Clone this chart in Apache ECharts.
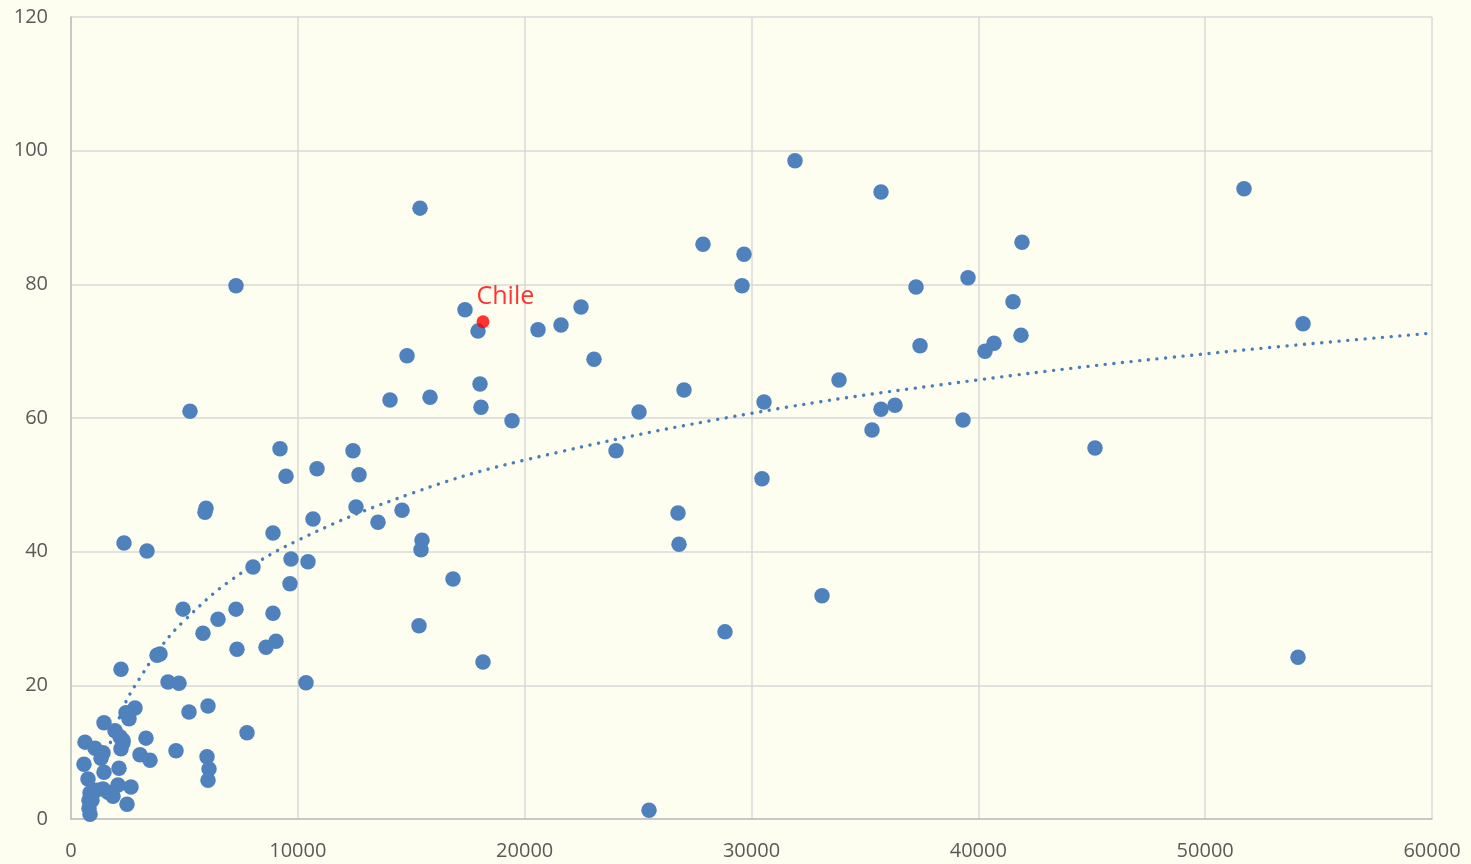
<!DOCTYPE html>
<html>
<head>
<meta charset="utf-8">
<script src="https://cdn.jsdelivr.net/npm/echarts@6/dist/echarts.min.js"></script>
<style>
html,body{margin:0;padding:0;background:#fefef0;}
#chart{width:1471px;height:864px;}
</style>
</head>
<body>
<div id="chart"></div>
<script>
// Scatter data: x values and y values
const xValues = [
  31918, 35709, 51713, 15386, 27862, 41925, 29670, 7274, 29582, 39545,
  37253, 41529, 17370, 22484, 17943, 20588, 21602, 54314, 37430, 40691,
  40294, 41881, 14813, 23057, 27025, 33858, 18031, 15827, 14063, 30551,
  18075, 35709, 36327, 5246, 25041, 19442, 39325, 35313, 45144, 24027,
  9214, 12432, 9478, 12697, 10845, 30463, 12565, 14593, 10669, 13534,
  26760, 26804, 5952, 5907, 8905, 15474, 15430, 2336, 3351, 9699,
  10448, 8024, 9655, 16841, 33108, 4938, 7274, 8905, 6481, 15342,
  5819, 9038, 28832, 7318, 8597, 3791, 3924, 18163, 54093, 2204,
  10360, 4276, 4761, 25482,
  2822, 2425, 2557, 1455, 1940, 3306, 5202, 6040, 7759, 617,
  2292, 2204, 4629, 3042, 3483, 5996, 6084, 6040, 573, 2116,
  1455, 749, 2645, 2072, 1411, 1852, 838, 794, 794, 838,
  2469, 1058, 1411, 1323, 2160, 2292, 926, 1631, 1102
];
const yValues = [
  98.5, 93.8, 94.3, 91.4, 86.0, 86.3, 84.5, 79.8, 79.8, 81.0,
  79.6, 77.4, 76.2, 76.6, 73.0, 73.2, 73.9, 74.1, 70.8, 71.2,
  70.0, 72.4, 69.3, 68.8, 64.2, 65.7, 65.1, 63.1, 62.7, 62.4,
  61.6, 61.3, 61.9, 61.0, 60.9, 59.6, 59.7, 58.2, 55.5, 55.1,
  55.4, 55.1, 51.3, 51.5, 52.4, 50.9, 46.7, 46.2, 44.9, 44.4,
  45.8, 41.1, 46.5, 45.9, 42.8, 41.7, 40.3, 41.3, 40.1, 38.9,
  38.5, 37.7, 35.2, 35.9, 33.4, 31.4, 31.4, 30.8, 29.9, 28.9,
  27.8, 26.6, 28.0, 25.4, 25.7, 24.5, 24.7, 23.5, 24.2, 22.4,
  20.4, 20.5, 20.3, 1.3,
  16.6, 15.9, 15.0, 14.4, 13.2, 12.1, 16.0, 16.9, 12.9, 11.5,
  11.8, 10.5, 10.2, 9.6, 8.8, 9.3, 7.5, 5.8, 8.2, 7.6,
  7.0, 6.0, 4.8, 5.1, 4.5, 3.4, 3.9, 2.8, 1.6, 0.7,
  2.2, 10.6, 9.9, 9.1, 12.3, 11.4, 2.8, 4.0, 4.3
];
// Highlighted country
const highlightName = 'Chile';
const highlightPoint = [18163, 74.4];
// Dotted (logarithmic) trendline
const trendX = [900, 1000, 1500, 2000, 2400, 3000, 4000, 5000, 7000, 10000, 15000, 20000, 30000, 40000, 50000, 60000];
const trendY = [0.1, 1.9, 8.9, 13.9, 17.4, 20.9, 25.9, 29.7, 35.6, 41.7, 48.7, 53.7, 60.7, 65.7, 69.6, 72.7];
// Axis ticks
const xTicks = [0, 10000, 20000, 30000, 40000, 50000, 60000];
const yTicks = [0, 20, 40, 60, 80, 100, 120];

const pts = xValues.map((x, i) => [x, yValues[i]]);
const trend = trendX.map((x, i) => [x, trendY[i]]);
const blue = '#4f81bd';
const labelStyle = {color: '#595959', fontSize: 20, fontFamily: 'Open Sans'};

const chart = echarts.init(document.getElementById('chart'));
chart.setOption({
  backgroundColor: '#fefef0',
  animation: false,
  grid: {left: 71, right: 39, top: 17, bottom: 45, containLabel: false},
  xAxis: {
    type: 'value', min: xTicks[0], max: xTicks[xTicks.length - 1], interval: xTicks[1] - xTicks[0],
    axisLine: {show: true, lineStyle: {color: '#bfbfbf', width: 1.5}},
    axisTick: {show: false},
    axisLabel: Object.assign({margin: 22, formatter: v => String(v)}, labelStyle),
    splitLine: {show: true, lineStyle: {color: '#d9d9d9', width: 1.5}}
  },
  yAxis: {
    type: 'value', min: yTicks[0], max: yTicks[yTicks.length - 1], interval: yTicks[1] - yTicks[0],
    axisLine: {show: true, lineStyle: {color: '#bfbfbf', width: 1.5}},
    axisTick: {show: false},
    axisLabel: Object.assign({margin: 23, formatter: v => String(v)}, labelStyle),
    splitLine: {show: true, lineStyle: {color: '#d9d9d9', width: 1.5}}
  },
  series: [
    {
      type: 'line', data: trend, showSymbol: false, smooth: 0.4, clip: true, z: 1,
      lineStyle: {color: '#4a7ebb', width: 3.4, type: [0.1, 8.6], cap: 'round'},
      silent: true
    },
    {
      type: 'scatter', data: pts, symbol: 'circle', symbolSize: 15.5, z: 2,
      itemStyle: {color: blue, opacity: 1}
    },
    {
      type: 'scatter', data: [highlightPoint], symbol: 'circle', symbolSize: 13, z: 3,
      itemStyle: {color: '#ff0000'},
      label: {
        show: true, formatter: highlightName, position: [0, -6], align: 'left', verticalAlign: 'bottom',
        color: '#ff0000', fontSize: 25, fontFamily: 'Open Sans'
      }
    }
  ]
});
</script>
</body>
</html>
